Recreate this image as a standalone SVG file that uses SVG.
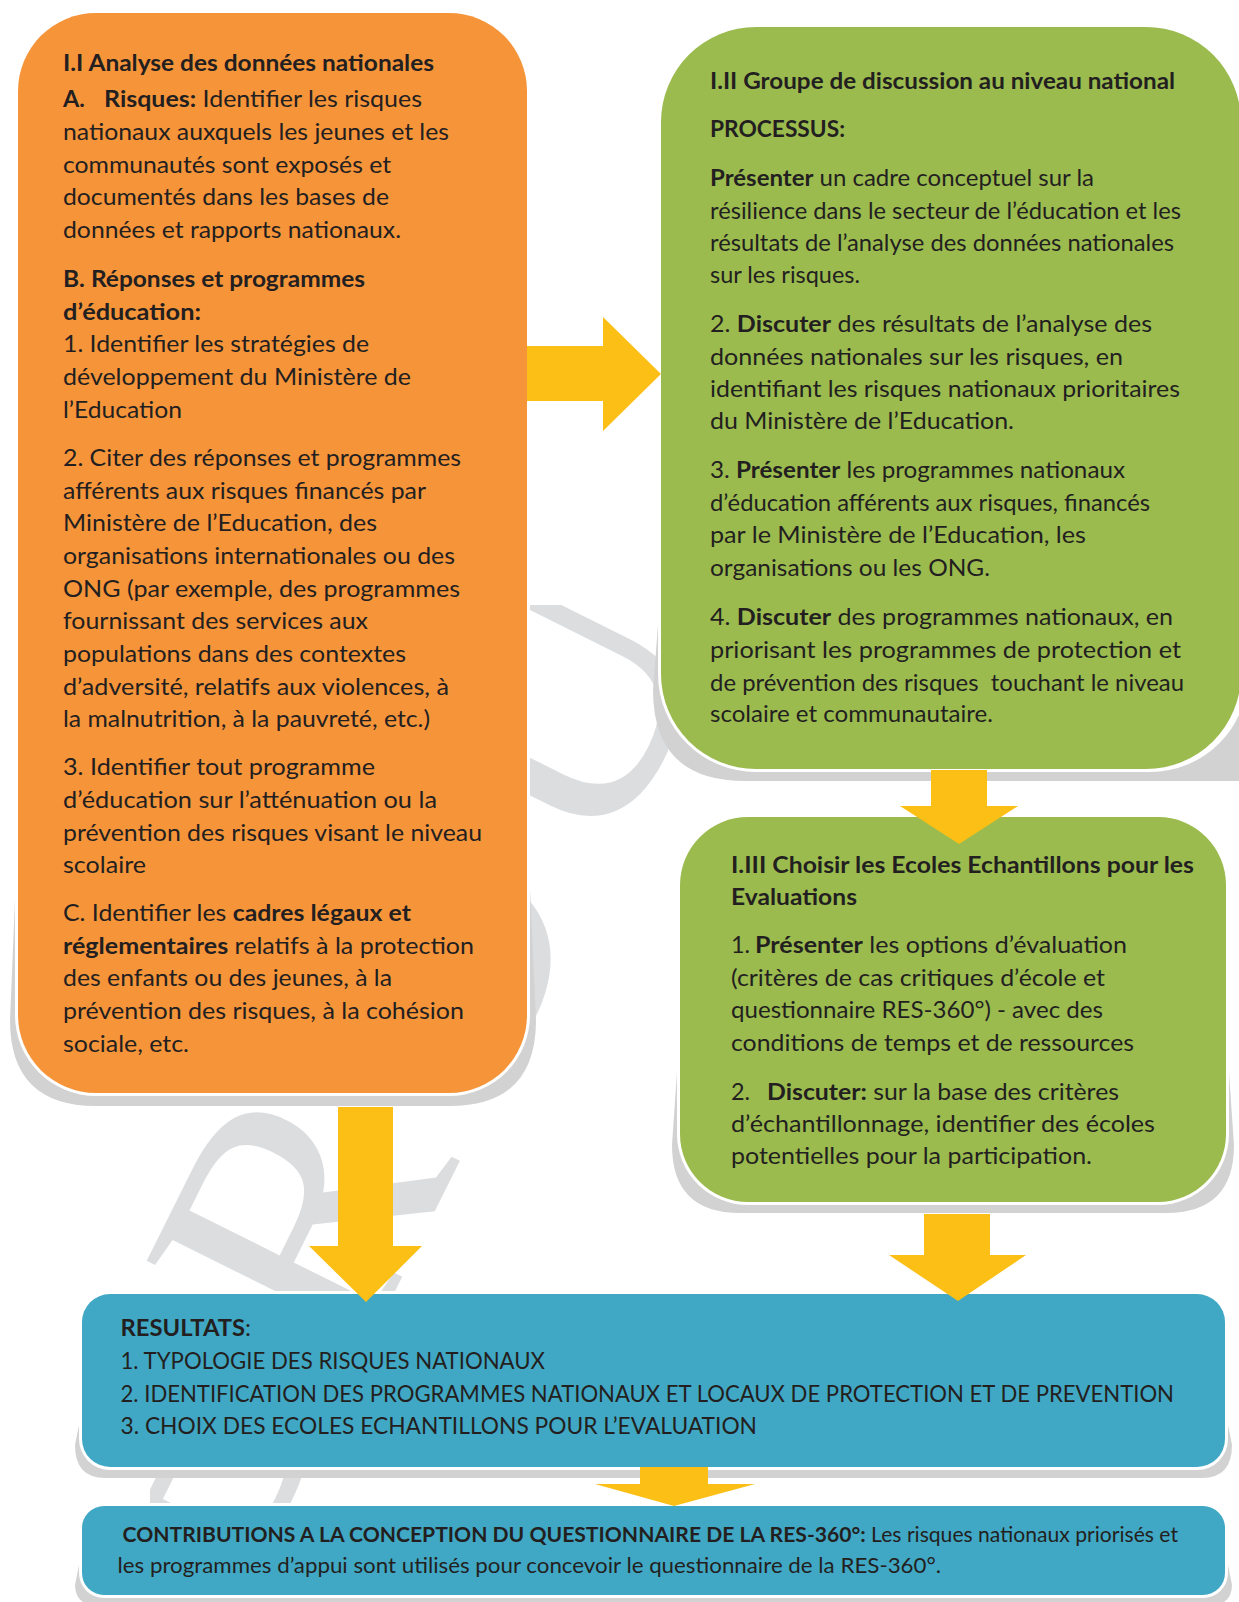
<svg xmlns="http://www.w3.org/2000/svg" width="1239" height="1602" viewBox="0 0 1239 1602">
<style>
.t{font-family:Lato,"Liberation Sans",sans-serif;font-size:23.4px;fill:#231f20}
.s{font-size:20.6px}
.b{font-weight:700}
.sh{fill:#d2d2d2}
.wo{fill:#ffffff}
.or{fill:#F6943A}
.gr{fill:#9BBB4F}
.bl{fill:#40A8C5}
.ar{fill:#FBBF15}
.wm{font-family:"Liberation Serif",serif;font-size:360px;letter-spacing:30px;fill:#dcdddf}
</style>
<defs>
<clipPath id="wmclip">
<rect x="528" y="605" width="140" height="505"/>
<rect x="0" y="1090" width="680" height="210"/>
<rect x="600" y="760" width="100" height="70"/>
<rect x="60" y="1250" width="22" height="50"/>
<rect x="150" y="1460" width="450" height="50"/>
</clipPath>
</defs>
<rect width="1239" height="1602" fill="#ffffff"/>
<g id="watermark" clip-path="url(#wmclip)">
<text class="wm" transform="translate(232.5 1617) rotate(-63.5)">BROU</text>
</g>
<g id="node-analyse">
<path class="sh" d="M 20 780 L 10 1020 Q 10 1106 96 1106 L 450 1106 Q 536 1106 536 1020 L 525 780 Z"/>
<rect class="wo" x="15" y="10" width="515" height="1086" rx="81"/>
<rect class="or" x="18" y="13" width="509" height="1080" rx="78"/>
<text class="t b" x="63" y="71" textLength="371" lengthAdjust="spacingAndGlyphs">I.I Analyse des données nationales</text>
<text class="t b" x="63" y="107">A.</text>
<text class="t" x="104" y="107" textLength="318" lengthAdjust="spacingAndGlyphs"><tspan class="b">Risques:</tspan> Identifier les risques</text>
<text class="t" x="63" y="140" textLength="386" lengthAdjust="spacingAndGlyphs">nationaux auxquels les jeunes et les</text>
<text class="t" x="63" y="172.6" textLength="328" lengthAdjust="spacingAndGlyphs">communautés sont exposés et</text>
<text class="t" x="63" y="205.3" textLength="326" lengthAdjust="spacingAndGlyphs">documentés dans les bases de</text>
<text class="t" x="63" y="238" textLength="338" lengthAdjust="spacingAndGlyphs">données et rapports nationaux.</text>
<text class="t b" x="63" y="287" textLength="302" lengthAdjust="spacingAndGlyphs">B. Réponses et programmes</text>
<text class="t b" x="63" y="319.7" textLength="138" lengthAdjust="spacingAndGlyphs">d’éducation:</text>
<text class="t" x="63" y="352.4" textLength="306" lengthAdjust="spacingAndGlyphs">1. Identifier les stratégies de</text>
<text class="t" x="63" y="385" textLength="348" lengthAdjust="spacingAndGlyphs">développement du Ministère de</text>
<text class="t" x="63" y="417.8" textLength="119" lengthAdjust="spacingAndGlyphs">l’Education</text>
<text class="t" x="63" y="465.8" textLength="398" lengthAdjust="spacingAndGlyphs">2. Citer des réponses et programmes</text>
<text class="t" x="63" y="498.5" textLength="363" lengthAdjust="spacingAndGlyphs">afférents aux risques financés par</text>
<text class="t" x="63" y="531" textLength="314" lengthAdjust="spacingAndGlyphs">Ministère de l’Education, des</text>
<text class="t" x="63" y="563.8" textLength="392" lengthAdjust="spacingAndGlyphs">organisations internationales ou des</text>
<text class="t" x="63" y="596.5" textLength="397" lengthAdjust="spacingAndGlyphs">ONG (par exemple, des programmes</text>
<text class="t" x="63" y="629" textLength="305" lengthAdjust="spacingAndGlyphs">fournissant des services aux</text>
<text class="t" x="63" y="662" textLength="343" lengthAdjust="spacingAndGlyphs">populations dans des contextes</text>
<text class="t" x="63" y="694.6" textLength="386" lengthAdjust="spacingAndGlyphs">d’adversité, relatifs aux violences, à</text>
<text class="t" x="63" y="727" textLength="367" lengthAdjust="spacingAndGlyphs">la malnutrition, à la pauvreté, etc.)</text>
<text class="t" x="63" y="775.2" textLength="312" lengthAdjust="spacingAndGlyphs">3. Identifier tout programme</text>
<text class="t" x="63" y="808" textLength="374" lengthAdjust="spacingAndGlyphs">d’éducation sur l’atténuation ou la</text>
<text class="t" x="63" y="840.6" textLength="419" lengthAdjust="spacingAndGlyphs">prévention des risques visant le niveau</text>
<text class="t" x="63" y="873.3" textLength="83" lengthAdjust="spacingAndGlyphs">scolaire</text>
<text class="t" x="63" y="921" textLength="348" lengthAdjust="spacingAndGlyphs">C. Identifier les <tspan class="b">cadres légaux et</tspan></text>
<text class="t" x="63" y="953.5" textLength="411" lengthAdjust="spacingAndGlyphs"><tspan class="b">réglementaires</tspan> relatifs à la protection</text>
<text class="t" x="63" y="986.2" textLength="329" lengthAdjust="spacingAndGlyphs">des enfants ou des jeunes, à la</text>
<text class="t" x="63" y="1018.8" textLength="401" lengthAdjust="spacingAndGlyphs">prévention des risques, à la cohésion</text>
<text class="t" x="63" y="1051.5" textLength="126" lengthAdjust="spacingAndGlyphs">sociale, etc.</text>
</g>
<g id="node-groupe">
<path class="sh" d="M 663 560 L 653 690 Q 653 781 745 781 L 1240 781 L 1240 560 Z"/>
<rect class="wo" x="658" y="24" width="590" height="748" rx="98"/>
<rect class="gr" x="661" y="27" width="580" height="742" rx="95"/>
<text class="t b" x="710" y="88.9" textLength="465" lengthAdjust="spacingAndGlyphs">I.II Groupe de discussion au niveau national</text>
<text class="t b" x="710" y="136.9" textLength="135" lengthAdjust="spacingAndGlyphs">PROCESSUS:</text>
<text class="t" x="710" y="185.9" textLength="384" lengthAdjust="spacingAndGlyphs"><tspan class="b">Présenter</tspan> un cadre conceptuel sur la</text>
<text class="t" x="710" y="218.5" textLength="471" lengthAdjust="spacingAndGlyphs">résilience dans le secteur de l’éducation et les</text>
<text class="t" x="710" y="251.2" textLength="464" lengthAdjust="spacingAndGlyphs">résultats de l’analyse des données nationales</text>
<text class="t" x="710" y="282.9" textLength="150" lengthAdjust="spacingAndGlyphs">sur les risques.</text>
<text class="t" x="710" y="332" textLength="442" lengthAdjust="spacingAndGlyphs">2. <tspan class="b">Discuter</tspan> des résultats de l’analyse des</text>
<text class="t" x="710" y="364.7" textLength="413" lengthAdjust="spacingAndGlyphs">données nationales sur les risques, en</text>
<text class="t" x="710" y="397.4" textLength="470" lengthAdjust="spacingAndGlyphs">identifiant les risques nationaux prioritaires</text>
<text class="t" x="710" y="428.9" textLength="304" lengthAdjust="spacingAndGlyphs">du Ministère de l’Education.</text>
<text class="t" x="710" y="478" textLength="415" lengthAdjust="spacingAndGlyphs">3. <tspan class="b">Présenter</tspan> les programmes nationaux</text>
<text class="t" x="710" y="510.7" textLength="440" lengthAdjust="spacingAndGlyphs">d’éducation afférents aux risques, financés</text>
<text class="t" x="710" y="543.4" textLength="376" lengthAdjust="spacingAndGlyphs">par le Ministère de l’Education, les</text>
<text class="t" x="710" y="576" textLength="280" lengthAdjust="spacingAndGlyphs">organisations ou les ONG.</text>
<text class="t" x="710" y="625" textLength="463" lengthAdjust="spacingAndGlyphs">4. <tspan class="b">Discuter</tspan> des programmes nationaux, en</text>
<text class="t" x="710" y="657.8" textLength="471" lengthAdjust="spacingAndGlyphs">priorisant les programmes de protection et</text>
<text class="t" x="710" y="690.5" textLength="474" lengthAdjust="spacingAndGlyphs">de prévention des risques&#160; touchant le niveau</text>
<text class="t" x="710" y="722" textLength="283" lengthAdjust="spacingAndGlyphs">scolaire et communautaire.</text>
</g>
<g id="node-choisir">
<path class="sh" d="M 682 1000 L 672 1145 Q 672 1213 740 1213 L 1166 1213 Q 1234 1213 1234 1145 L 1224 1000 Z"/>
<rect class="wo" x="677" y="814" width="552" height="391" rx="71"/>
<rect class="gr" x="680" y="817" width="546" height="385" rx="68"/>
<text class="t b" x="731" y="872.7" textLength="463" lengthAdjust="spacingAndGlyphs">I.III Choisir les Ecoles Echantillons pour les</text>
<text class="t b" x="731" y="905" textLength="126" lengthAdjust="spacingAndGlyphs">Evaluations</text>
<text class="t" x="731" y="953">1.</text>
<text class="t" x="755" y="953" textLength="372" lengthAdjust="spacingAndGlyphs"><tspan class="b">Présenter</tspan> les options d’évaluation</text>
<text class="t" x="731" y="985.5" textLength="374" lengthAdjust="spacingAndGlyphs">(critères de cas critiques d’école et</text>
<text class="t" x="731" y="1018" textLength="372" lengthAdjust="spacingAndGlyphs">questionnaire RES-360°) - avec des</text>
<text class="t" x="731" y="1051" textLength="403" lengthAdjust="spacingAndGlyphs">conditions de temps et de ressources</text>
<text class="t" x="731" y="1100">2.</text>
<text class="t" x="767" y="1100" textLength="352" lengthAdjust="spacingAndGlyphs"><tspan class="b">Discuter:</tspan> sur la base des critères</text>
<text class="t" x="731" y="1131.6" textLength="424" lengthAdjust="spacingAndGlyphs">d’échantillonnage, identifier des écoles</text>
<text class="t" x="731" y="1164" textLength="361" lengthAdjust="spacingAndGlyphs">potentielles pour la participation.</text>
</g>
<g id="node-resultats">
<path class="sh" d="M 84 1400 L 75 1445 Q 75 1478 105 1478 L 1202 1478 Q 1232 1478 1232 1445 L 1223 1400 Z"/>
<rect class="wo" x="79" y="1291" width="1149" height="179" rx="31"/>
<rect class="bl" x="82" y="1294" width="1143" height="173" rx="28"/>
<text class="t" x="120.5" y="1336" textLength="130.5" lengthAdjust="spacingAndGlyphs"><tspan class="b">RESULTATS</tspan>:</text>
<text class="t" x="120.5" y="1369" textLength="424.5" lengthAdjust="spacingAndGlyphs">1. TYPOLOGIE DES RISQUES NATIONAUX</text>
<text class="t" x="120.5" y="1401.5" textLength="1053.5" lengthAdjust="spacingAndGlyphs">2. IDENTIFICATION DES PROGRAMMES NATIONAUX ET LOCAUX DE PROTECTION ET DE PREVENTION</text>
<text class="t" x="120.5" y="1434" textLength="636.5" lengthAdjust="spacingAndGlyphs">3. CHOIX DES ECOLES ECHANTILLONS POUR L’EVALUATION</text>
</g>
<g id="node-contributions">
<path class="sh" d="M 84 1540 L 75 1585 Q 75 1606 100 1606 L 1207 1606 Q 1232 1606 1232 1585 L 1223 1540 Z"/>
<rect class="wo" x="79" y="1503" width="1149" height="95" rx="25"/>
<rect class="bl" x="82" y="1506" width="1143" height="89" rx="22"/>
<text class="t s" x="122.5" y="1542" textLength="1055.5" lengthAdjust="spacingAndGlyphs"><tspan class="b">CONTRIBUTIONS A LA CONCEPTION DU QUESTIONNAIRE DE LA RES-360°:</tspan> Les risques nationaux priorisés et</text>
<text class="t s" x="117.5" y="1572.5" textLength="823.5" lengthAdjust="spacingAndGlyphs">les programmes d’appui sont utilisés pour concevoir le questionnaire de la RES-360°.</text>
</g>
<g id="connectors">
<path class="ar" d="M 527 346 L 603 346 L 603 317 L 661 374 L 603 431 L 603 401 L 527 401 Z"/>
<path class="ar" d="M 931 770 L 987 770 L 987 806 L 1018 806 L 959 844 L 900 806 L 931 806 Z"/>
<path class="ar" d="M 924 1214 L 990 1214 L 990 1255 L 1026 1255 L 958 1301 L 889 1255 L 924 1255 Z"/>
<path class="ar" d="M 338 1107 L 393 1107 L 393 1246 L 422 1246 L 366 1302 L 309 1246 L 338 1246 Z"/>
<path class="ar" d="M 640 1467 L 708 1467 L 708 1484 L 755 1484 L 674 1506 L 595 1484 L 640 1484 Z"/>
</g>
</svg>
